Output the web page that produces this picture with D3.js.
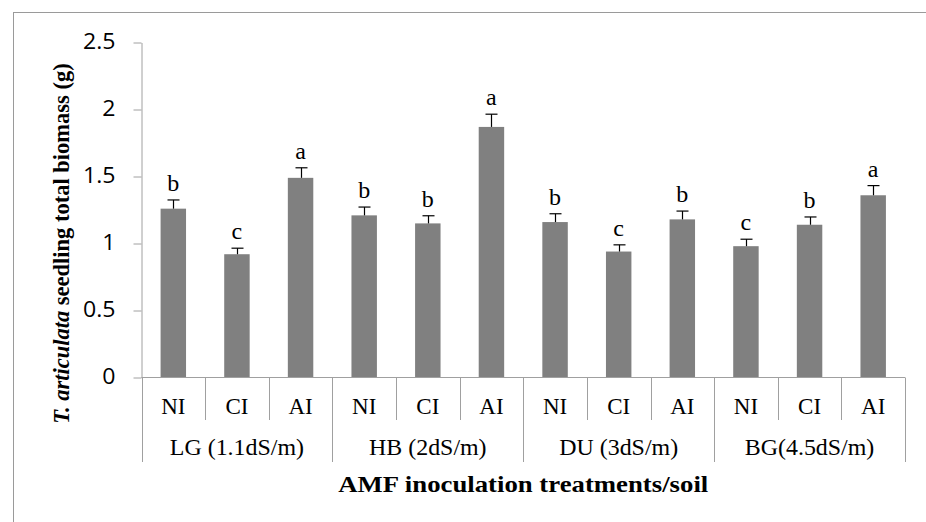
<!DOCTYPE html>
<html>
<head>
<meta charset="utf-8">
<script src="https://cdn.jsdelivr.net/npm/d3@7"></script>
<style>
html,body{margin:0;padding:0;background:#fff;}
svg{display:block;}
</style>
</head>
<body>
<svg id="chart" width="926" height="522"></svg>
<script>
// ---- data ----
const groups = ["LG (1.1dS/m)", "HB (2dS/m)", "DU (3dS/m)", "BG(4.5dS/m)"];
const treatments = ["NI", "CI", "AI"];
const biomass = [1.26, 0.92, 1.49, 1.21, 1.15, 1.87, 1.16, 0.94, 1.18, 0.98, 1.14, 1.36];
const errors  = [0.065, 0.045, 0.075, 0.062, 0.057, 0.095, 0.062, 0.05, 0.062, 0.052, 0.058, 0.072];
const letters = ["b", "c", "a", "b", "b", "a", "b", "c", "b", "c", "b", "a"];
const yTicks = [0, 0.5, 1, 1.5, 2, 2.5];
const yTickLabels = ["0", "0.5", "1", "1.5", "2", "2.5"];

(function () {
const rows = [];
groups.forEach((g, gi) => treatments.forEach((t, ti) => {
  const i = gi * treatments.length + ti;
  rows.push({key: i, group: g, treat: t, v: biomass[i], e: errors[i], l: letters[i]});
}));

const svg = d3.select("#chart");
const pL = 141.5, pR = 905, pT = 42.5, pB = 377.5;
const axisColor = "#a0a0a0";
const serif = "'Liberation Serif', 'Times New Roman', serif";

// outer frame
svg.append("rect").attr("x", 13.5).attr("y", 12.5).attr("width", 1000).attr("height", 1000)
  .attr("fill", "none").attr("stroke", "#9a9a9a").attr("stroke-width", 1);

const x = d3.scaleBand().domain(rows.map(d => d.key)).range([pL, pR]).paddingInner(0).paddingOuter(0);
const y = d3.scaleLinear().domain([0, 2.5]).range([pB, pT]);

// y axis
const yAxis = d3.axisLeft(y).tickValues(yTicks).tickSize(8).tickSizeOuter(0)
  .tickFormat(d => yTickLabels[yTicks.indexOf(d)]);
const ya = svg.append("g").attr("transform", `translate(${pL},0)`).call(yAxis);
ya.select(".domain").attr("stroke", axisColor);
ya.selectAll(".tick line").attr("stroke", axisColor);
ya.selectAll(".tick text").remove();
ya.selectAll(".tick").append("text")
  .attr("transform", "translate(-26,-1.5) scale(1.1,1)")
  .attr("text-anchor", "end").attr("dy", "0.35em")
  .attr("fill", "#000")
  .style("font-family", "'Open Sans', sans-serif").style("font-size", "21px")
  .text(d => yTickLabels[yTicks.indexOf(d)]);

// bars
const bw = x.bandwidth() * 0.4;
svg.append("g").selectAll("rect").data(rows).join("rect")
  .attr("x", d => x(d.key) + (x.bandwidth() - bw) / 2)
  .attr("width", bw)
  .attr("y", d => y(d.v))
  .attr("height", d => y(0) - y(d.v))
  .attr("fill", "#808080");

// error bars (upper)
const eg = svg.append("g").attr("stroke", "#000").attr("stroke-width", 1.2);
rows.forEach(d => {
  const cx = Math.round(x(d.key) + x.bandwidth() / 2) + 0.5;
  eg.append("line").attr("x1", cx).attr("x2", cx).attr("y1", y(d.v)).attr("y2", y(d.v + d.e));
  eg.append("line").attr("x1", cx - 6).attr("x2", cx + 6).attr("y1", y(d.v + d.e)).attr("y2", y(d.v + d.e));
});

// significance letters
svg.append("g").selectAll("text").data(rows).join("text")
  .attr("x", d => x(d.key) + x.bandwidth() / 2)
  .attr("y", d => y(d.v + d.e) - 9)
  .attr("text-anchor", "middle")
  .style("font-family", serif).style("font-size", "24px")
  .text(d => d.l);

// x axis line
svg.append("line").attr("x1", pL).attr("x2", pR).attr("y1", pB).attr("y2", pB)
  .attr("stroke", axisColor);

// category separators
const sep = svg.append("g").attr("stroke", axisColor);
rows.forEach((d, i) => {
  const xx = Math.round(x(d.key)) + 0.5;
  const isGroup = i % treatments.length === 0;
  sep.append("line").attr("x1", xx).attr("x2", xx).attr("y1", pB).attr("y2", isGroup ? 462 : 420);
});
sep.append("line").attr("x1", Math.round(pR) + 0.5).attr("x2", Math.round(pR) + 0.5)
  .attr("y1", pB).attr("y2", 462);

// category labels
svg.append("g").selectAll("text").data(rows).join("text")
  .attr("x", d => x(d.key) + x.bandwidth() / 2)
  .attr("y", 413.5)
  .attr("text-anchor", "middle")
  .style("font-family", serif).style("font-size", "23px")
  .text(d => d.treat);

// group labels
svg.append("g").selectAll("text").data(groups).join("text")
  .attr("x", (g, gi) => x(gi * 3) + x.bandwidth() * 1.5)
  .attr("y", 455)
  .attr("text-anchor", "middle")
  .style("font-family", serif).style("font-size", "23px")
  .attr("transform", (g, gi) => {
    const cx = x(gi * 3) + x.bandwidth() * 1.5;
    return `translate(${cx},0) scale(1.04,1) translate(${-cx},0)`;
  })
  .text(g => g);

// x axis title
svg.append("text")
  .attr("x", (pL + pR) / 2).attr("y", 491.5)
  .attr("text-anchor", "middle")
  .attr("textLength", 370).attr("lengthAdjust", "spacingAndGlyphs")
  .style("font-family", serif).style("font-size", "23px")
  .style("font-weight", "bold")
  .text("AMF inoculation treatments/soil");

// y axis title
const yt = svg.append("text")
  .attr("transform", "translate(69,243.5) rotate(-90)")
  .attr("text-anchor", "middle")
  .style("font-family", serif).style("font-size", "22.5px")
  .style("font-weight", "bold");
yt.append("tspan").style("font-style", "italic").text("T. articulata");
yt.append("tspan").text(" seedling total biomass (g)");
})();
</script>
</body>
</html>
